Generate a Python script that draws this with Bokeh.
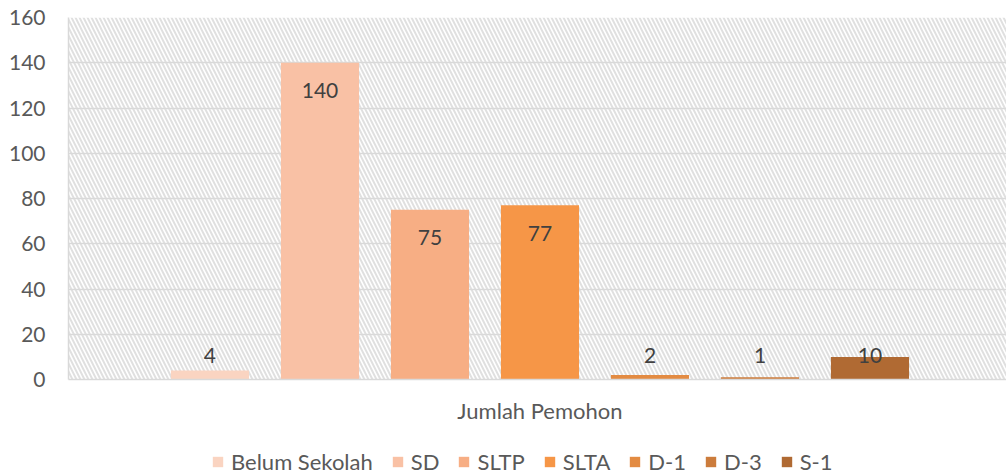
from bokeh.plotting import figure
from bokeh.layouts import column
from bokeh.models import ColumnDataSource, BoxAnnotation, FixedTicker, Legend, LegendItem, Range1d
from bokeh.core.properties import value
from bokeh.embed import file_html
from bokeh.resources import INLINE

categories = ["Belum Sekolah", "SD", "SLTP", "SLTA", "D-1", "D-3", "S-1"]
values = [4, 140, 75, 77, 2, 1, 10]
colors = ["#fad4c1", "#f9c1a5", "#f7ae84", "#f69647", "#e38b42", "#cc7c3c", "#b06a33"]
group_label = "Jumlah Pemohon"
y_ticks = [0, 20, 40, 60, 80, 100, 120, 140, 160]

FONT = "Lato"
xs = list(range(len(categories)))
label_y = [max(v - 12.4, 10.6) for v in values]

src = ColumnDataSource(dict(x=xs, top=values, cat=categories, color=colors,
                            ly=label_y, txt=[str(v) for v in values]))

p = figure(width=1006, height=431, output_backend="svg", toolbar_location=None,
           x_range=Range1d(-1.286, 7.241), y_range=Range1d(0, 160),
           min_border_left=68, min_border_right=0, min_border_top=17, min_border_bottom=52)
p.frame_align = False
p.outline_line_color = None
p.background_fill_color = "white"
p.border_fill_color = "white"

p.add_layout(BoxAnnotation(fill_alpha=0, fill_color=None, line_color=None,
                           hatch_pattern="left_diagonal_line", hatch_color="#e0e0e0",
                           hatch_scale=8, hatch_weight=2, level="image"))

r = p.vbar(x="x", top="top", width=0.71, source=src, fill_color="color",
           line_color=None)
p.text(x="x", y="ly", text="txt", source=src, text_align="center",
       text_baseline="middle", text_font=value(FONT), text_font_size="21px",
       text_color="#404040")

p.ygrid.ticker = FixedTicker(ticks=y_ticks)
p.ygrid.grid_line_color = "#d9d9d9"
p.ygrid.grid_line_width = 1.5
p.xgrid.grid_line_color = None

p.yaxis.ticker = FixedTicker(ticks=y_ticks)
p.yaxis.axis_line_color = "#d9d9d9"
p.yaxis.axis_line_width = 1.5
p.yaxis.major_tick_line_color = None
p.yaxis.minor_tick_line_color = None
p.yaxis.major_label_text_font = FONT
p.yaxis.major_label_text_font_size = "21px"
p.yaxis.major_label_text_color = "#595959"
p.yaxis.major_label_standoff = 17

p.xaxis.ticker = FixedTicker(ticks=[3])
p.xaxis.major_label_overrides = {3: group_label}
p.xaxis.axis_line_color = "#d9d9d9"
p.xaxis.axis_line_width = 1.5
p.xaxis.major_tick_line_color = None
p.xaxis.minor_tick_line_color = None
p.xaxis.major_label_text_font = FONT
p.xaxis.major_label_text_font_size = "22px"
p.xaxis.major_label_text_color = "#595959"
p.xaxis.major_label_standoff = 11

# legend strip below the chart (its bars sit outside its view; only the legend shows)
p2 = figure(width=1006, height=44, output_backend="svg", toolbar_location=None,
            x_range=Range1d(100, 101), y_range=Range1d(500, 501),
            x_axis_location=None, y_axis_location=None,
            min_border_left=0, min_border_right=0, min_border_top=0, min_border_bottom=0)
p2.frame_align = False
p2.outline_line_color = None
p2.xgrid.visible = False
p2.ygrid.visible = False
p2.background_fill_color = "white"
p2.border_fill_color = "white"
r2 = p2.vbar(x="x", top="top", width=0.71, source=src, fill_color="color",
             line_color=None)

legend = Legend(items=[LegendItem(label=c, renderers=[r2], index=i) for i, c in enumerate(categories)],
                orientation="horizontal", location=(211, 0))
legend.glyph_width = 13
legend.glyph_height = 13
legend.label_height = 22
legend.label_text_font = FONT
legend.label_text_font_size = "22px"
legend.label_text_color = "#595959"
legend.label_standoff = 7
legend.spacing = 18
legend.padding = 0
legend.margin = 0
legend.border_line_color = None
legend.background_fill_alpha = 0
p2.add_layout(legend, "center")

layout = column(p, p2, spacing=0)
open("out.html", "w").write(file_html(layout, INLINE))
